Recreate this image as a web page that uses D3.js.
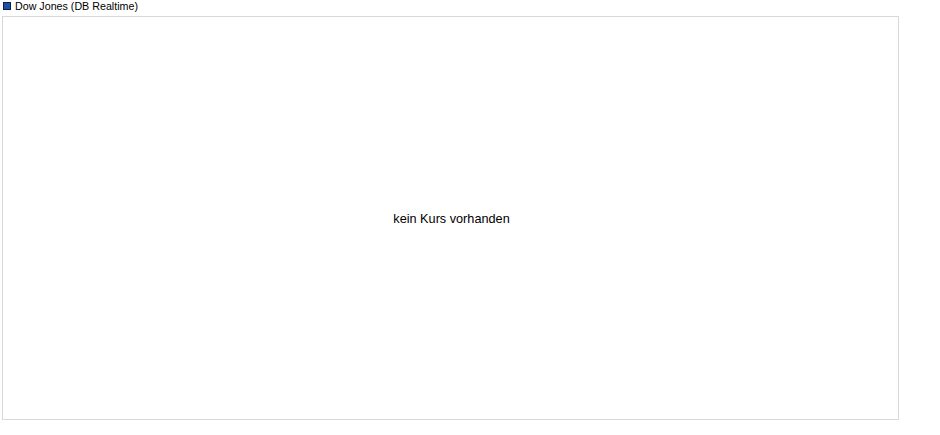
<!DOCTYPE html>
<html>
<head>
<meta charset="utf-8">
<script src="https://cdn.jsdelivr.net/npm/d3@7"></script>
<style>
  body { margin: 0; background: #fff; }
  text { font-family: "Liberation Sans", Arial, sans-serif; }
</style>
</head>
<body>
<div id="chart"></div>
<script>
// series shown in the legend, no quotes available
const seriesNames = ["Dow Jones (DB Realtime)"];
const seriesColors = ["#1f4fa0"];
const prices = [];
const emptyMessage = "kein Kurs vorhanden";

const W = 940, H = 435;
const margin = {top: 16, right: 42, bottom: 16, left: 2};
const width = W - margin.left - margin.right;
const height = H - margin.top - margin.bottom;

const svg = d3.select("#chart")
  .append("svg")
  .attr("width", W)
  .attr("height", H);

// legend
const legend = svg.append("g")
  .attr("transform", "translate(3,2)");
legend.selectAll("rect")
  .data(seriesNames)
  .join("rect")
  .attr("x", 0.5)
  .attr("y", 0.5)
  .attr("width", 7)
  .attr("height", 7)
  .attr("fill", (d, i) => seriesColors[i])
  .attr("stroke", "#0a1f50")
  .attr("stroke-width", 1);
legend.selectAll("text")
  .data(seriesNames)
  .join("text")
  .attr("x", 12)
  .attr("y", 8)
  .attr("font-size", "10.7px")
  .attr("fill", "#000")
  .text(d => d);

// plot area
const g = svg.append("g")
  .attr("transform", `translate(${margin.left},${margin.top})`);

g.append("rect")
  .attr("x", 0.5)
  .attr("y", 0.5)
  .attr("width", width)
  .attr("height", height)
  .attr("fill", "#fff")
  .attr("stroke", "#d8d8d8");

const x = d3.scaleLinear().domain([0, 1]).range([0, width]);
const y = d3.scaleLinear().domain([0, 1]).range([height, 0]);

if (prices.length) {
  g.append("path")
    .datum(prices)
    .attr("fill", "none")
    .attr("stroke", seriesColors[0])
    .attr("d", d3.line().x((d, i) => x(i / (prices.length - 1))).y(d => y(d)));
} else {
  g.append("text")
    .attr("x", x(0.5) + 1.5)
    .attr("y", y(0.5) + 5)
    .attr("text-anchor", "middle")
    .attr("font-size", "12.7px")
    .attr("fill", "#000")
    .text(emptyMessage);
}
</script>
</body>
</html>
